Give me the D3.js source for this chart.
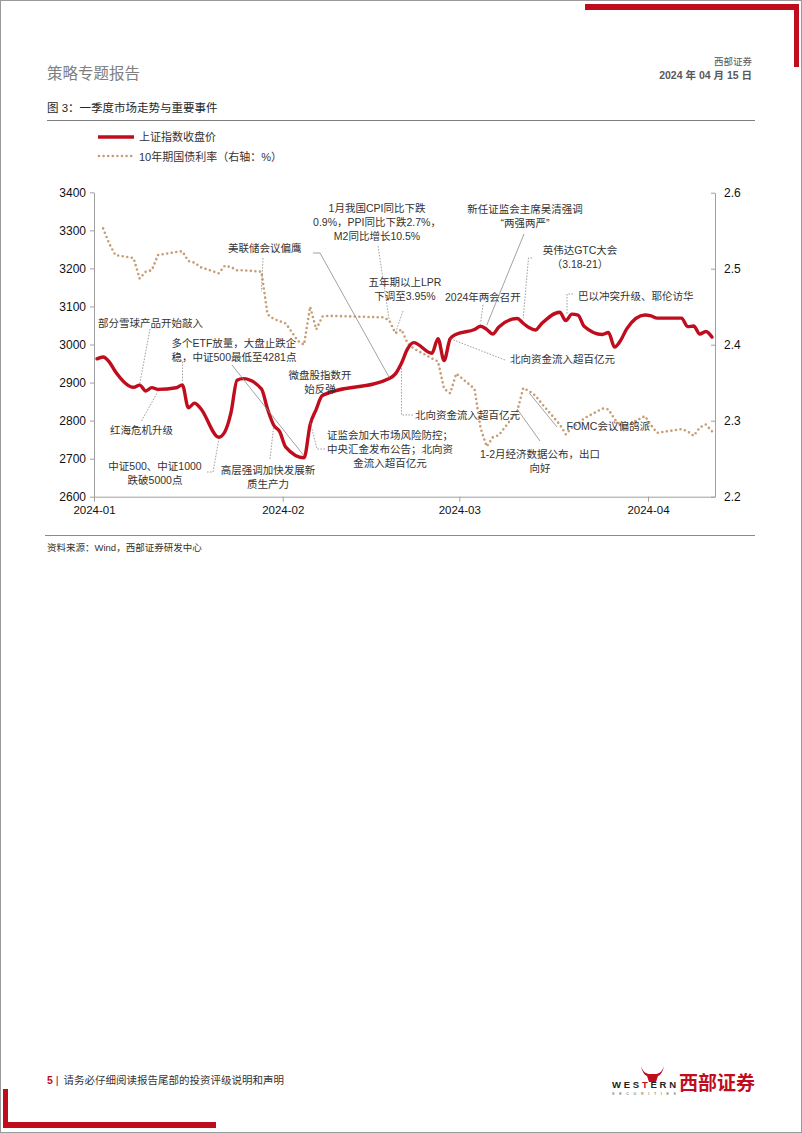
<!DOCTYPE html>
<html><head><meta charset="utf-8">
<script src="https://cdn.jsdelivr.net/npm/d3@7"></script>
<style>
html,body{margin:0;padding:0;background:#fff;}
svg{display:block;}
</style></head><body>
<svg id="page" width="802" height="1133"></svg>
<script>
// ---------------- DATA ----------------
const shDates = [
 "2024-01-02","2024-01-03","2024-01-04","2024-01-05","2024-01-08","2024-01-09","2024-01-10","2024-01-11","2024-01-12",
 "2024-01-15","2024-01-16","2024-01-17","2024-01-18","2024-01-19","2024-01-22","2024-01-23","2024-01-24","2024-01-25",
 "2024-01-26","2024-01-29","2024-01-30","2024-01-31",
 "2024-02-01","2024-02-02","2024-02-05","2024-02-06","2024-02-07","2024-02-08","2024-02-19","2024-02-20","2024-02-21",
 "2024-02-22","2024-02-23","2024-02-26","2024-02-27","2024-02-28","2024-02-29",
 "2024-03-01","2024-03-04","2024-03-05","2024-03-06","2024-03-07","2024-03-08","2024-03-11","2024-03-12","2024-03-13",
 "2024-03-14","2024-03-15","2024-03-18","2024-03-19","2024-03-20","2024-03-21","2024-03-22","2024-03-25","2024-03-26",
 "2024-03-27","2024-03-28","2024-03-29",
 "2024-04-01","2024-04-02","2024-04-03","2024-04-07","2024-04-08","2024-04-09","2024-04-10","2024-04-11","2024-04-12"];
const shClose = [
 2962.3,2967.3,2954.4,2929.2,2887.5,2893.3,2877.7,2886.7,2882.0,
 2886.3,2894.0,2833.6,2845.8,2832.3,2756.3,2770.7,2820.8,2906.1,
 2910.2,2883.4,2830.5,2788.6,
 2771.0,2730.2,2702.2,2789.5,2829.7,2865.9,2910.5,2922.7,2951.0,
 2988.4,3004.9,2977.0,3015.5,2957.9,3015.2,
 3027.0,3039.3,3047.8,3039.9,3027.4,3046.0,3068.5,3055.9,3043.8,
 3038.2,3054.6,3084.9,3062.8,3079.7,3077.1,3048.0,3026.3,3031.5,
 2993.1,3010.7,3041.2,
 3077.4,3075.0,3069.3,3069.3,3047.1,3048.5,3027.3,3034.3,3019.5];

const bondDates = [
 "2024-01-03","2024-01-04","2024-01-05","2024-01-08","2024-01-09","2024-01-10","2024-01-11","2024-01-12","2024-01-15",
 "2024-01-16","2024-01-17","2024-01-18","2024-01-19","2024-01-22","2024-01-23","2024-01-24","2024-01-25","2024-01-26",
 "2024-01-29","2024-01-30","2024-01-31",
 "2024-02-01","2024-02-02","2024-02-04","2024-02-05","2024-02-06","2024-02-07","2024-02-08","2024-02-09","2024-02-18",
 "2024-02-19","2024-02-20","2024-02-21","2024-02-22","2024-02-23","2024-02-26","2024-02-27","2024-02-28","2024-02-29",
 "2024-03-01","2024-03-04","2024-03-05","2024-03-06","2024-03-07","2024-03-08","2024-03-11","2024-03-12","2024-03-13",
 "2024-03-14","2024-03-15","2024-03-18","2024-03-19","2024-03-20","2024-03-21","2024-03-22","2024-03-25","2024-03-26",
 "2024-03-27","2024-03-28","2024-03-29",
 "2024-04-01","2024-04-02","2024-04-03","2024-04-07","2024-04-08","2024-04-09","2024-04-10","2024-04-11","2024-04-12"];
const bondYield = [
 2.553,2.533,2.518,2.514,2.487,2.496,2.498,2.518,2.522,
 2.523,2.510,2.508,2.502,2.494,2.504,2.502,2.498,2.498,
 2.496,2.440,2.434,
 2.431,2.428,2.405,2.400,2.450,2.420,2.437,2.438,2.436,
 2.432,2.415,2.420,2.402,2.395,2.382,2.378,2.342,2.336,
 2.362,2.342,2.290,2.266,2.278,2.281,2.312,2.343,2.339,
 2.333,2.323,2.295,2.282,2.291,2.296,2.303,2.316,2.315,
 2.302,2.294,2.294,
 2.306,2.294,2.284,2.289,2.286,2.280,2.291,2.295,2.286];

const leftTicks = [2600,2700,2800,2900,3000,3100,3200,3300,3400];
const rightTicks = [2.2,2.3,2.4,2.5,2.6];
const monthTicks = ["2024-01-01","2024-02-01","2024-03-01","2024-04-01"];
const monthLabels = ["2024-01","2024-02","2024-03","2024-04"];
const seriesNames = ["上证指数收盘价","10年期国债利率（右轴：%）"];

// ---------------- SETUP ----------------
const parse = d3.timeParse("%Y-%m-%d");
const LATIN = "'Liberation Sans', Arial, 'Noto Sans CJK SC', sans-serif";
const CJK = "'Noto Sans CJK SC', 'Liberation Sans', sans-serif";
const RED = "#c00d1e";
const TAN = "#c79d74";
const svg = d3.select("#page");

// page frame
svg.append("rect").attr("x",0.5).attr("y",0.5).attr("width",801).attr("height",1132)
  .attr("fill","none").attr("stroke","#9a9a9a").attr("stroke-width",1);
// red corner top-right
svg.append("rect").attr("x",585).attr("y",4).attr("width",214).attr("height",6).attr("fill",RED);
svg.append("rect").attr("x",794).attr("y",4).attr("width",5).attr("height",63).attr("fill",RED);
// red corner bottom-left
svg.append("rect").attr("x",3).attr("y",1089).attr("width",5).attr("height",39).attr("fill",RED);
svg.append("rect").attr("x",3).attr("y",1122).attr("width",213).attr("height",6).attr("fill",RED);

// header
svg.append("text").attr("x",47).attr("y",79).attr("font-family",CJK).attr("font-size",15.5)
  .attr("fill","#808080").text("策略专题报告");
svg.append("text").attr("x",752).attr("y",65).attr("text-anchor","end").attr("font-family",CJK)
  .attr("font-size",9.5).attr("fill","#555").text("西部证券");
svg.append("text").attr("x",752).attr("y",79).attr("text-anchor","end").attr("font-family",LATIN)
  .attr("font-size",10.5).attr("font-weight","bold").attr("fill","#5a5a5a").text("2024 年 04 月 15 日");
svg.append("text").attr("x",47).attr("y",112).attr("font-family",LATIN).attr("font-size",11.5)
  .attr("fill","#262626").text("图 3：一季度市场走势与重要事件");
svg.append("line").attr("x1",47).attr("x2",755).attr("y1",120.5).attr("y2",120.5)
  .attr("stroke","#7f7f7f").attr("stroke-width",1);

// legend
svg.append("line").attr("x1",98).attr("x2",134).attr("y1",137).attr("y2",137)
  .attr("stroke",RED).attr("stroke-width",3.5);
svg.append("text").attr("x",139).attr("y",141).attr("font-family",CJK).attr("font-size",11)
  .attr("fill","#333").text(seriesNames[0]);
svg.append("line").attr("x1",99).attr("x2",135).attr("y1",156).attr("y2",156)
  .attr("stroke",TAN).attr("stroke-width",2.6).attr("stroke-linecap","round").attr("stroke-dasharray","0 4.6");
svg.append("text").attr("x",139).attr("y",160.5).attr("font-family",LATIN).attr("font-size",11)
  .attr("fill","#333").text(seriesNames[1]);

// scales
const X0 = 94, X1 = 715, Y0 = 496.7;
const x = d3.scaleTime().domain([parse("2024-01-01"), parse("2024-04-12")]).range([X0, X1]);
const half = 12*3600*1000;
const px = d => x(new Date(d.getTime() - half));
const yL = d3.scaleLinear().domain([2600,3400]).range([Y0,192.3]);
const yR = d3.scaleLinear().domain([2.2,2.6]).range([Y0,192.7]);

const shData = shDates.map((d,i)=>({date:parse(d), v:shClose[i]}));
const bondData = bondDates.map((d,i)=>({date:parse(d), v:bondYield[i]}));

// axes
const axCol = "#a0a0a0";
function styleAxis(g){
  g.selectAll("path.domain").attr("stroke",axCol).attr("stroke-width",1);
  g.selectAll(".tick line").attr("stroke",axCol).attr("stroke-width",1);
  g.selectAll(".tick text").attr("fill","#111").attr("font-family",LATIN);
}
const gL = svg.append("g").attr("transform",`translate(${X0},0)`)
  .call(d3.axisLeft(yL).tickValues(leftTicks).tickSize(4).tickSizeOuter(0).tickPadding(4).tickFormat(d3.format("d")));
styleAxis(gL); gL.selectAll(".tick text").attr("font-size",12);
const gR = svg.append("g").attr("transform",`translate(${X1},0)`)
  .call(d3.axisRight(yR).tickValues(rightTicks).tickSizeInner(-4).tickSizeOuter(0).tickPadding(9).tickFormat(d3.format(".1f")));
styleAxis(gR); gR.selectAll(".tick text").attr("font-size",12);
const gB = svg.append("g").attr("transform",`translate(0,${Y0})`)
  .call(d3.axisBottom(x).tickValues(monthTicks.map(parse)).tickFormat((d,i)=>monthLabels[i])
    .tickSize(5).tickSizeOuter(0).tickPadding(4));
styleAxis(gB); gB.selectAll(".tick text").attr("font-size",11.5);

// series
const lineR = d3.line().x(d=>px(d.date)).y(d=>yR(d.v)).curve(d3.curveLinear);
svg.append("path").datum(bondData).attr("d",lineR).attr("fill","none")
  .attr("stroke",TAN).attr("stroke-width",2.6).attr("stroke-linecap","round")
  .attr("stroke-dasharray","0 4.6");
const lineL = d3.line().x(d=>px(d.date)).y(d=>yL(d.v)).curve(d3.curveMonotoneX);
svg.append("path").datum(shData).attr("d",lineL).attr("fill","none")
  .attr("stroke",RED).attr("stroke-width",3.4).attr("stroke-linejoin","round").attr("stroke-linecap","round");

// ---------------- ANNOTATIONS ----------------
function anchor(a){
  const dt = parse(a.date);
  const xx = px(dt);
  const yy = a.axis==="R" ? yR(a.v) : yL(a.v);
  return [xx, yy + (a.gap||0)];
}
const annotations = [
 {lines:["部分雪球产品开始敲入"], x:98, y:323, anchor:"start",
  leaders:[{dash:true, pts:[[150,329]], to:{date:"2024-01-09",v:2893,axis:"L",gap:-1}}]},
 {lines:["红海危机升级"], x:110, y:430, anchor:"start",
  leaders:[{dash:true, pts:[[141.5,421]], to:{date:"2024-01-12",v:2882,axis:"L",gap:2}}]},
 {lines:["多个ETF放量，大盘止跌企","稳，中证500最低至4281点"], x:171.5, y:343.5, anchor:"start",
  leaders:[{dash:true, pts:[[179.5,361.5],[182.5,361.5]], to:{date:"2024-01-16",v:2894,axis:"L",gap:-3}, vert:true},
           {dash:false, pts:[[232,365]], to:{date:"2024-02-05",v:2702,axis:"L",gap:-2}}]},
 {lines:["中证500、中证1000","跌破5000点"], x:155, y:466, anchor:"middle",
  leaders:[{dash:true, pts:[[207,472],[213,472]], to:{date:"2024-01-22",v:2756,axis:"L",gap:2}}]},
 {lines:["高层强调加快发展新","质生产力"], x:268, y:470, anchor:"middle",
  leaders:[{dash:true, pts:[[270,459]], to:{date:"2024-01-31",v:2788.6,axis:"L",gap:2}}]},
 {lines:["微盘股指数开","始反弹"], x:320, y:375, anchor:"middle", leaders:[]},
 {lines:["美联储会议偏鹰"], x:228, y:248.5, anchor:"start",
  leaders:[{dash:true, pts:[[263,258]], to:{date:"2024-01-29",v:2.47,axis:"R",gap:0}},
           {dash:false, pts:[[313,253],[320,253]], to:{date:"2024-02-19",v:2910.5,axis:"L",gap:-1}}]},
 {lines:["1月我国CPI同比下跌","0.9%，PPI同比下跌2.7%，","M2同比增长10.5%"], x:377, y:208.5, anchor:"middle",
  leaders:[{dash:true, pts:[[378,246]], to:{date:"2024-02-19",v:2.432,axis:"R",gap:0}}]},
 {lines:["五年期以上LPR","下调至3.95%"], x:405, y:282, anchor:"middle",
  leaders:[{dash:true, pts:[[403,311]], to:{date:"2024-02-20",v:2.415,axis:"R",gap:0}}]},
 {lines:["北向资金流入超百亿元"], x:415, y:415, anchor:"start",
  leaders:[{dash:true, pts:[[413,415]], to:{date:"2024-02-21",v:2951,axis:"L",gap:3}, elbow:true}]},
 {lines:["证监会加大市场风险防控；","中央汇金发布公告；北向资","金流入超百亿元"], x:390, y:435, anchor:"middle",
  leaders:[{dash:true, pts:[[325,449],[317,449]], to:{date:"2024-02-06",v:2789.5,axis:"L",gap:-3}}]},
 {lines:["2024年两会召开"], x:445, y:297, anchor:"start",
  leaders:[{dash:true, pts:[[483,305]], to:{date:"2024-03-05",v:3047.8,axis:"L",gap:-3}}]},
 {lines:["北向资金流入超百亿元"], x:510, y:359.5, anchor:"start",
  leaders:[{dash:true, pts:[[505,360]], to:{date:"2024-02-29",v:3015.2,axis:"L",gap:0}}]},
 {lines:["新任证监会主席吴清强调","“两强两严”"], x:525, y:209.5, anchor:"middle",
  leaders:[{dash:false, pts:[[524,234]], to:{date:"2024-03-06",v:3039.9,axis:"L",gap:-4}}]},
 {lines:["英伟达GTC大会","（3.18-21）"], x:580, y:250, anchor:"middle",
  leaders:[{dash:true, pts:[[532,258],[528.5,258]], to:{date:"2024-03-12",v:3055.9,axis:"L",gap:-5}}]},
 {lines:["巴以冲突升级、耶伦访华"], x:578, y:296, anchor:"start",
  leaders:[{dash:true, pts:[[573,294],[567,294]], to:{date:"2024-03-19",v:3062.8,axis:"L",gap:-7}, vert:true}]},
 {lines:["FOMC会议偏鸽派"], x:566.5, y:426, anchor:"start",
  leaders:[{dash:false, pts:[[557,427]], to:{date:"2024-03-13",v:2.339,axis:"R",gap:2}}]},
 {lines:["1-2月经济数据公布，出口","向好"], x:540, y:454, anchor:"middle",
  leaders:[{dash:false, pts:[[540,441]], to:{date:"2024-03-11",v:2.318,axis:"R",gap:2}}]}
];

const gA = svg.append("g");
annotations.forEach(a=>{
  a.leaders.forEach(l=>{
    const end = anchor(l.to);
    let pts = l.pts.slice();
    if (l.elbow) { pts.push([end[0], pts[pts.length-1][1]]); }
    if (l.vert) { pts.push([pts[pts.length-1][0], end[1]]); }
    else pts.push(end);
    gA.append("path").attr("d", d3.line()(pts)).attr("fill","none")
      .attr("stroke","#8a8a8a").attr("stroke-width",0.8)
      .attr("stroke-dasharray", l.dash ? "1.6 1.4" : null);
  });
  a.lines.forEach((t,i)=>{
    gA.append("text").attr("x",a.x).attr("y",a.y + i*14 + 3.8)
      .attr("text-anchor",a.anchor).attr("font-family",LATIN).attr("font-size",10.5)
      .attr("fill","#333").text(t);
  });
});

// source
svg.append("line").attr("x1",45).attr("x2",755).attr("y1",535.5).attr("y2",535.5)
  .attr("stroke","#8a8a8a").attr("stroke-width",1);
svg.append("text").attr("x",47).attr("y",551).attr("font-family",LATIN).attr("font-size",9.5)
  .attr("fill","#333").text("资料来源：Wind，西部证券研发中心");

// footer
const ft = svg.append("text").attr("x",47).attr("y",1084).attr("font-family",LATIN).attr("font-size",10.5).attr("fill","#333");
ft.append("tspan").attr("fill",RED).attr("font-weight","bold").text("5");
ft.append("tspan").attr("dx",3).attr("fill","#333").text("|");
ft.append("tspan").attr("dx",5).text("请务必仔细阅读报告尾部的投资评级说明和声明");

// logo
const lg = svg.append("g");
lg.append("path").attr("d","M641,1066 C643,1072 646,1074 650,1074 L655,1074 C659,1074 662,1072 664,1066 C663,1071 661,1075 658,1076 L656,1082 L649,1082 L647,1076 C644,1075 642,1071 641,1066 Z")
  .attr("fill",RED);
const wt = lg.append("text").attr("x",612).attr("y",1088).attr("font-family",LATIN).attr("font-size",9.5)
  .attr("font-weight","bold").attr("fill","#222").attr("textLength",64);
wt.append("tspan").text("WES");
wt.append("tspan").attr("fill",RED).text("T");
wt.append("tspan").text("ERN");
lg.append("text").attr("x",612).attr("y",1095).attr("font-family",LATIN).attr("font-size",3.6)
  .attr("fill","#444").attr("textLength",64).text("S E C U R I T I E S");
lg.append("text").attr("x",679).attr("y",1090).attr("font-family",CJK).attr("font-size",19)
  .attr("font-weight","bold").attr("fill",RED).text("西部证券");
</script>
</body></html>
